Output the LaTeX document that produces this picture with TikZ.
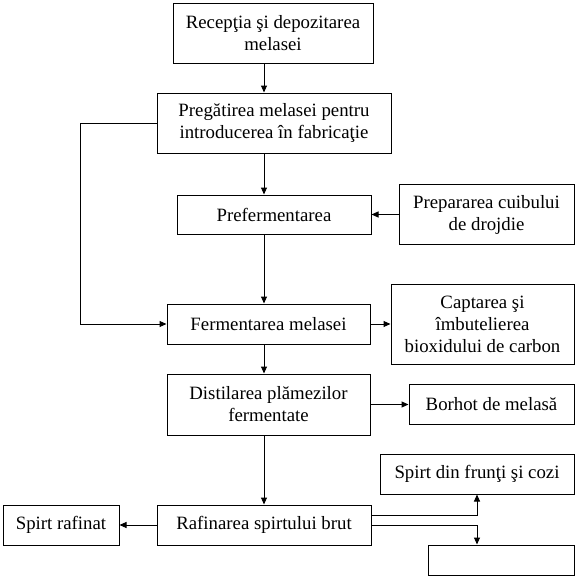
\documentclass[tikz,border=0pt]{standalone}
\usepackage{fontspec}
\setmainfont{Liberation Serif}
\usetikzlibrary{arrows.meta}
\tikzset{
  box/.style={draw, line width=1pt, inner sep=0pt, align=center,
    font=\fontsize{18.8}{22}\selectfont},
  conn/.style={line width=1pt, -{Triangle[length=7pt,width=6pt]}},
  plain/.style={line width=1pt}
}
\begin{document}
\begin{tikzpicture}[x=1pt,y=-1pt]
\useasboundingbox (0,0) rectangle (577,579);
\coordinate (mx) at (264,0);
\coordinate (fb) at (80,0);
\node[box, minimum width=200pt, minimum height=60pt] (b1) at (273,33) {Recepţia şi depozitarea\\melasei};
\node[box, minimum width=234pt, minimum height=60pt] (b2) at (274,123) {Pregătirea melasei pentru\\introducerea în fabricaţie};
\node[box, minimum width=194pt, minimum height=39pt] (b3) at (274,214.5) {Prefermentarea};
\node[box, minimum width=175pt, minimum height=60pt] (b4) at (486.5,214.5) {Prepararea cuibului\\de drojdie};
\node[box, minimum width=203pt, minimum height=40pt] (b5) at (268.5,324) {Fermentarea melasei};
\node[box, minimum width=183pt, minimum height=80pt] (b6) at (482.5,324) {Captarea şi\\îmbutelierea\\bioxidului de carbon};
\node[box, minimum width=203pt, minimum height=61pt] (b7) at (268.5,404.5) {Distilarea plămezilor\\fermentate};
\node[box, minimum width=165pt, minimum height=40pt] (b8) at (491.5,404.5) {Borhot de melasă};
\node[box, minimum width=214pt, minimum height=40pt] (b9) at (264,525) {Rafinarea spirtului brut};
\node[box, minimum width=116pt, minimum height=40pt] (b10) at (61,525) {Spirt rafinat};
\node[box, minimum width=194pt, minimum height=40pt] (b11) at (477,474) {Spirt din frunţi şi cozi};
\node[box, minimum width=146pt, minimum height=30pt] (b12) at (501,560) {};
\draw[conn] (b1.south -| mx) -- (b2.north -| mx);
\draw[conn] (b2.south -| mx) -- (b3.north -| mx);
\draw[conn] (b3.south -| mx) -- (b5.north -| mx);
\draw[conn] (b5.south -| mx) -- (b7.north -| mx);
\draw[conn] (b7.south -| mx) -- (b9.north -| mx);
\draw[conn] (b4.west) -- (b3.east);
\draw[conn] (b5.east) -- (b6.west);
\draw[conn] (b7.east) -- (b8.west);
\draw[conn] (b9.west) -- (b10.east);
\draw[conn] (b2.west) -- (b2.west -| fb) |- (b5.west);
\draw[conn] ([yshift=10pt]b9.east) -| (b11.south);
\draw[conn] (b9.east) -- (b9.east -| b11.south) -- (b12.north -| b11.south);
\end{tikzpicture}
\end{document}
